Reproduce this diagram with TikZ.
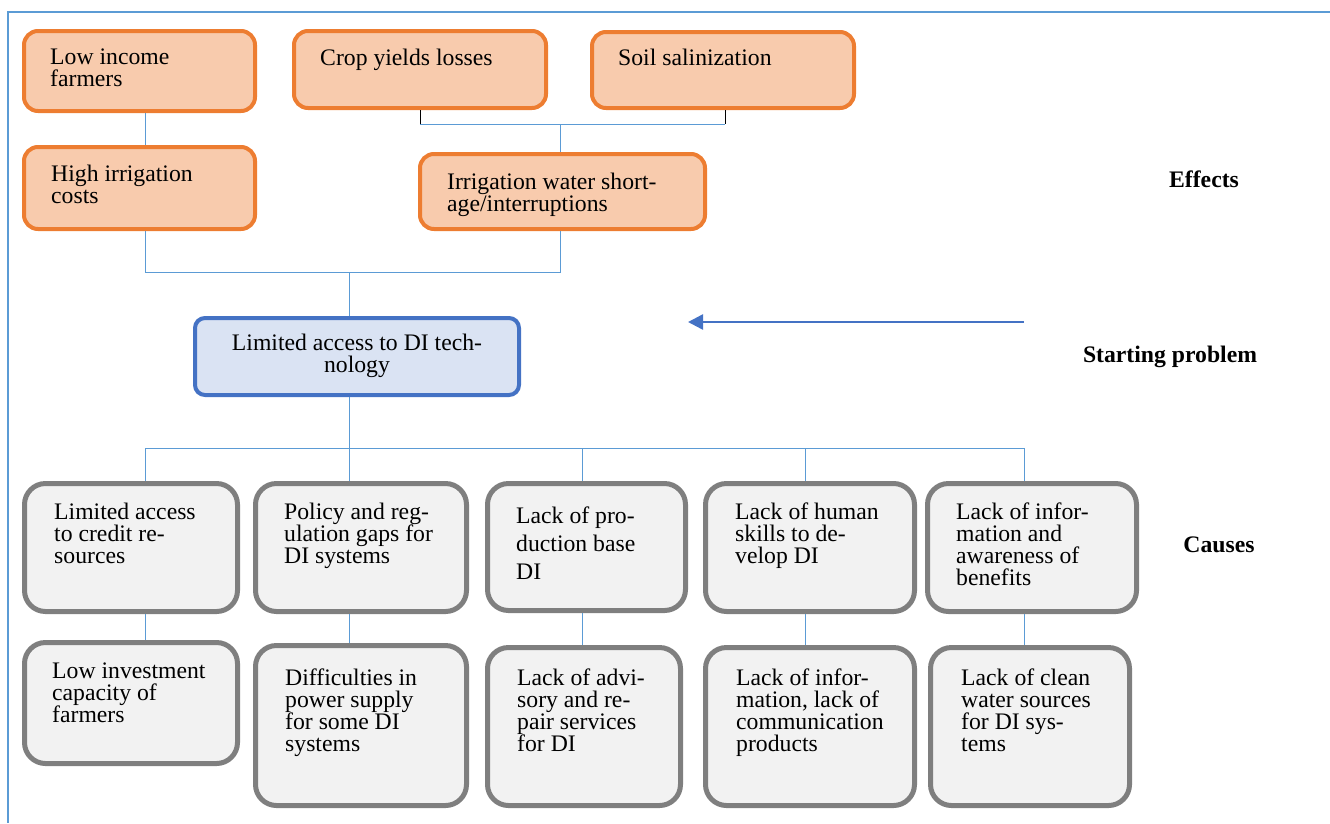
\documentclass[tikz,border=0pt]{standalone}
\usepackage{fontspec}
\setmainfont{Liberation Serif}
\usetikzlibrary{arrows.meta}
\definecolor{effFill}{HTML}{F8CBAD}
\definecolor{effLine}{HTML}{ED7D31}
\definecolor{probFill}{HTML}{DAE3F3}
\definecolor{probLine}{HTML}{4472C4}
\definecolor{causeFill}{HTML}{F2F2F2}
\definecolor{causeLine}{HTML}{7F7F7F}
\definecolor{linkBlue}{HTML}{5B9BD5}
% box from border corners (x1,y1)-(x2,y2), y measured downwards
\newcommand\mkbox[6]{%
  \pgfmathsetmacro\bw{#5-#3}\pgfmathsetmacro\bh{#6-#4}%
  \node[#2, minimum width=\bw pt, minimum height=\bh pt] (#1) at ({(#3+#5)/2},{(#4+#6)/2}) {};}
\tikzset{
  effbox/.style={draw=effLine, fill=effFill, line width=4pt, rounded corners=14pt, inner sep=0pt},
  probbox/.style={draw=probLine, fill=probFill, line width=4pt, rounded corners=10pt, inner sep=0pt},
  causebox/.style={draw=causeLine, fill=causeFill, line width=5pt, rounded corners=21pt, inner sep=0pt},
  % text blocks are placed by the baseline of their last line
  txt/.style={inner sep=0pt, align=left, anchor=base west, font=\fontsize{23.7}{22}\selectfont},
  lbl/.style={inner sep=0pt, anchor=base, font=\fontsize{23.7}{22}\selectfont\bfseries},
  conn/.style={draw=linkBlue, line width=1pt},
  tick/.style={draw=black, line width=1pt},
  arr/.style={draw=probLine, line width=2.5pt, -{Triangle[length=15pt,width=15pt]}},
  frame/.style={draw=linkBlue, line width=1.5pt}
}
\begin{document}
\begin{tikzpicture}[x=1pt, y=-1pt]
\useasboundingbox (0,0) rectangle (1330,823);
% outer frame
\draw[frame] (1330,12) -- (8,12) -- (8,823);

% effects
\mkbox{lowinc}{effbox}{24}{31}{255}{111}
\mkbox{crop}{effbox}{294}{31}{546}{108}
\mkbox{soil}{effbox}{592}{32}{854}{108}
\mkbox{highirr}{effbox}{24}{147}{255}{229}
\mkbox{iws}{effbox}{420}{154}{705}{229}
\node[txt] (tlowinc) at (50,86) {Low income\\farmers};
\node[txt] (tcrop) at (320,65) {Crop yields losses};
\node[txt] (tsoil) at (618,65) {Soil salinization};
\node[txt] (thighirr) at (51,203) {High irrigation\\costs};
\node[txt] (tiws) at (447,211) {Irrigation water short-\\age/interruptions};

% starting problem
\mkbox{ldi}{probbox}{195}{318}{519}{395}
\node[txt, anchor=base, align=center] (tldi) at (357,372) {Limited access to DI tech-\\nology};

% causes, first row
\mkbox{ra}{causebox}{24.5}{483.5}{237.5}{611.5}
\mkbox{rb}{causebox}{255.5}{483.5}{466.5}{611.5}
\mkbox{rc}{causebox}{487.5}{483.5}{685.5}{610.5}
\mkbox{rd}{causebox}{705.5}{483.5}{914.5}{611.5}
\mkbox{re}{causebox}{927.5}{483.5}{1136.5}{611.5}
% causes, second row
\mkbox{sa}{causebox}{24.5}{642.5}{237.5}{763.5}
\mkbox{sb}{causebox}{255.5}{645.5}{466.5}{805.5}
\mkbox{sc}{causebox}{487.5}{647.5}{680.5}{805.5}
\mkbox{sd}{causebox}{705.5}{647.5}{914.5}{805.5}
\mkbox{se}{causebox}{930.5}{647.5}{1129.5}{805.5}

\node[txt] (tra) at (54,563) {Limited access\\to credit re-\\sources};
\node[txt] (trb) at (284,563) {Policy and reg-\\ulation gaps for\\DI systems};
\node[txt, font=\fontsize{23.7}{28}\selectfont] (trc) at (516,579) {Lack of pro-\\duction base\\DI};
\node[txt] (trd) at (735,563) {Lack of human\\skills to de-\\velop DI};
\node[txt] (tre) at (956,585) {Lack of infor-\\mation and\\awareness of\\benefits};
\node[txt] (tsa) at (52,722) {Low investment\\capacity of\\farmers};
\node[txt] (tsb) at (285,751) {Difficulties in\\power supply\\for some DI\\systems};
\node[txt] (tsc) at (517,751) {Lack of advi-\\sory and re-\\pair services\\for DI};
\node[txt] (tsd) at (736,751) {Lack of infor-\\mation, lack of\\communication\\products};
\node[txt] (tse) at (961,751) {Lack of clean\\water sources\\for DI sys-\\tems};

% side labels
\node[lbl] (leff) at (1204,187) {Effects};
\node[lbl] (lstart) at (1170,362) {Starting problem};
\node[lbl] (lcause) at (1219,552) {Causes};

% connectors among the effects
\coordinate (ta) at (420,124);
\coordinate (tb) at (725,124);
\coordinate (tm) at (560,124);
\coordinate (ea) at (145,272);
\coordinate (eb) at (560,272);
\coordinate (em) at (349,272);
\draw[conn] (lowinc.south -| ea) -- (highirr.north -| ea);
\draw[tick] (crop.south -| ta) -- (ta);
\draw[tick] (soil.south -| tb) -- (tb);
\draw[conn] (ta) -- (tb);
\draw[conn] (tm) -- (iws.north -| tm);
\draw[conn] (highirr.south -| ea) -- (ea) -- (eb) -- (iws.south -| eb);
\draw[conn] (em) -- (ldi.north -| em);

% arrow pointing at the starting problem
\coordinate (as) at (1024,322);
\coordinate (ae) at (688,322);
\draw[arr] (as) -- (ae);

% connectors to the causes
\coordinate (ba) at (145,448);
\coordinate (bb) at (349,448);
\coordinate (bc) at (582,448);
\coordinate (bd) at (805,448);
\coordinate (be) at (1024,448);
\draw[conn] (ba) -- (be);
\draw[conn] (ldi.south -| bb) -- (bb);
\foreach \b/\r/\s in {ba/ra/sa, bb/rb/sb, bc/rc/sc, bd/rd/sd, be/re/se}{
  \draw[conn] (\b) -- (\r.north -| \b);
  \draw[conn] (\r.south -| \b) -- (\s.north -| \b);
}
\end{tikzpicture}
\end{document}
